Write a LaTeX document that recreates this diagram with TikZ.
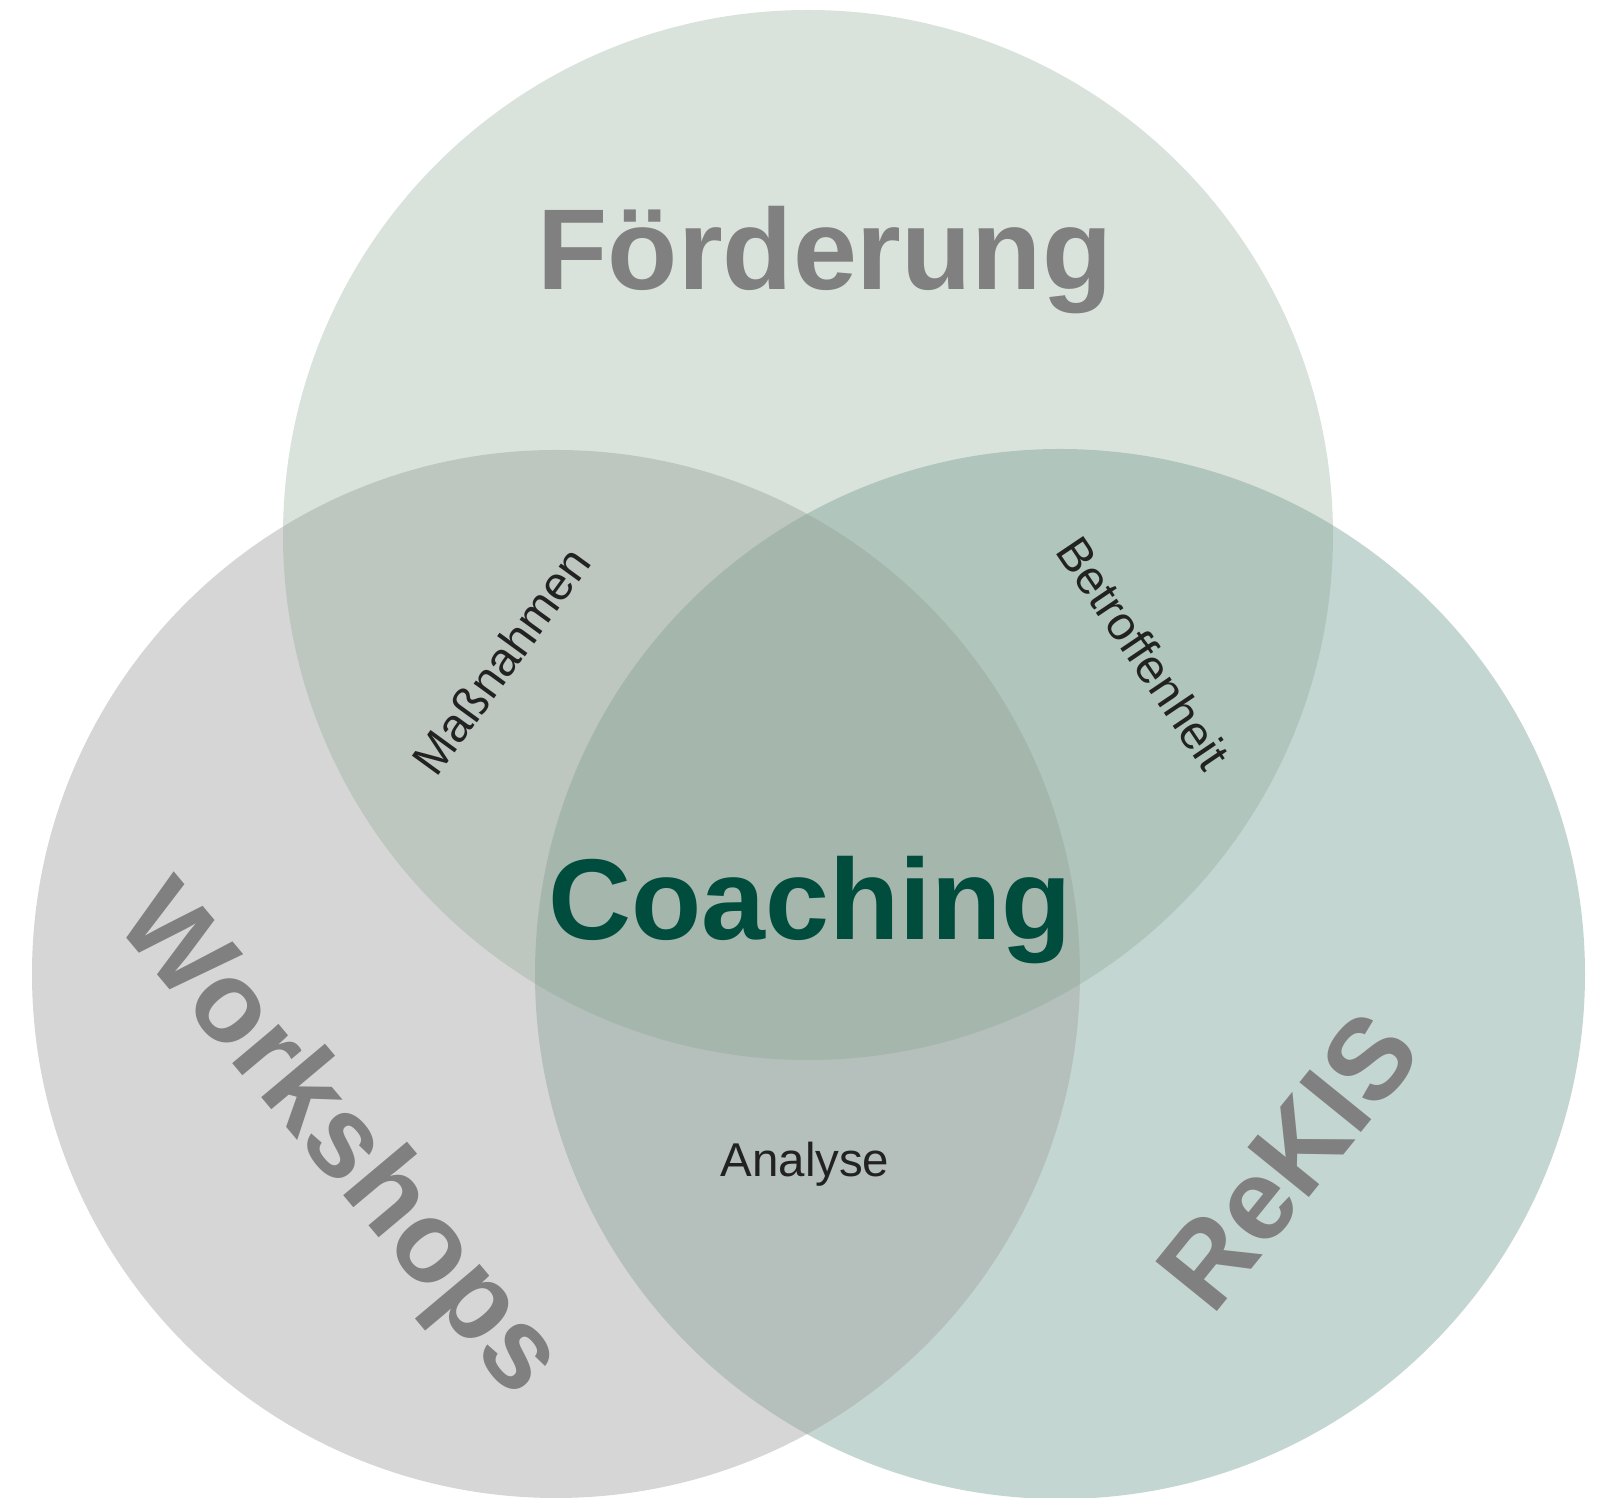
\documentclass[tikz,border=0pt]{standalone}
\usepackage{fontspec}
\setmainfont{Liberation Sans}[Ligatures=NoCommon]
\usepackage{tikz}

\definecolor{labelgrey}{RGB}{128,128,128}
\definecolor{coachgreen}{RGB}{0,77,61}
\definecolor{smalltext}{RGB}{34,34,34}
\definecolor{rekisfill}{RGB}{196,214,209}
\definecolor{workfill}{RGB}{164,164,164}
\definecolor{foerdfill}{RGB}{132,165,142}

\begin{document}
\begin{tikzpicture}[every node/.style={inner sep=0pt, outer sep=0pt}]
		\tikzstyle{set label}=[font=\fontsize{32.7}{38}\selectfont\bfseries, text=labelgrey]
		\tikzstyle{main label}=[font=\fontsize{32.7}{38}\selectfont\bfseries]
		\tikzstyle{cut label}=[font=\fontsize{13.5}{16}\selectfont, text=smalltext]
		\useasboundingbox (0,0) rectangle (15.98,14.98);

		% the three sets, right one first, the others laid over it
		\fill[rekisfill] (10.60,5.24) circle (5.25);
		\fill[workfill, fill opacity=0.45] (5.56,5.24) circle (5.24);
		\fill[foerdfill, fill opacity=0.31] (8.08,9.63) circle (5.25);

		\node[main label, text=labelgrey, anchor=base] (foerd) at (8.25,12.08) {Förderung};
		\node[set label, rotate=-50] (work) at (3.37,3.56) {Workshops};
		\node[set label, rotate=51] (rekis) at (12.88,3.37) {ReKIS};
		\node[main label, text=coachgreen, anchor=base] (coach) at (8.10,5.58) {Coaching};

		% intersections of two sets
		\node[cut label, rotate=54] (mass) at (5.01,8.37) {Maßnahmen};
		\node[cut label, rotate=-56] (betr) at (11.44,8.45) {Betroffenheit};
		\node[cut label, anchor=base] (anal) at (8.05,3.21) {Analyse};
	\end{tikzpicture}
\end{document}
